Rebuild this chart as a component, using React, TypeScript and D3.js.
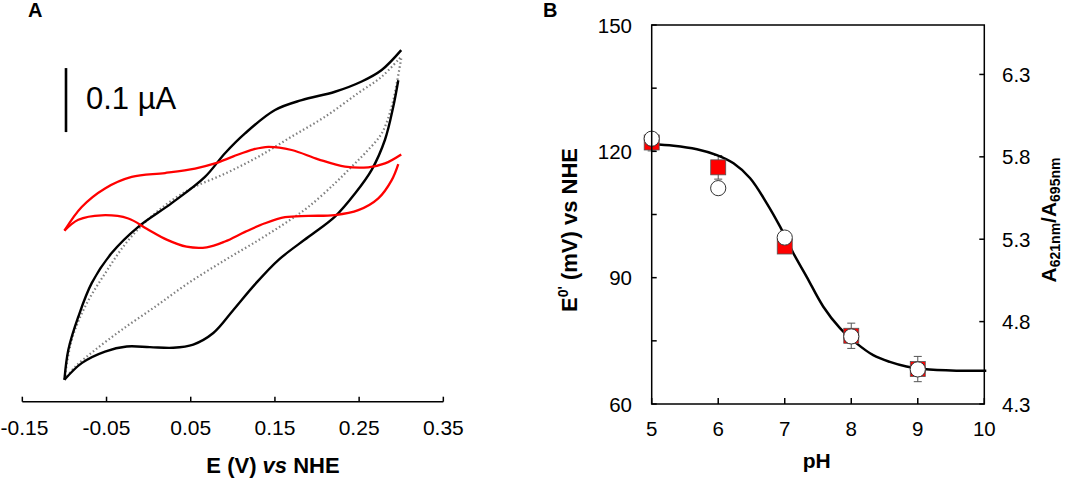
import React from "react"
import * as d3 from "d3"

const W = 1065
const H = 478
const FONT = "Arial, 'Liberation Sans', sans-serif"

// ---- panel A: cyclic voltammograms, [E (V), I (µA)] ----
const blackForward: [number, number][] = [
    [-0.1, -0.259], [-0.0954, -0.2125], [-0.0835, -0.1605], [-0.0676, -0.108],
    [-0.0439, -0.061], [-0.0123, -0.02], [0.0274, 0.017], [0.0669, 0.058],
    [0.0907, 0.095], [0.1145, 0.126], [0.1501, 0.1625], [0.1818, 0.178],
    [0.2213, 0.191], [0.253, 0.207], [0.2768, 0.225], [0.3, 0.256],
]
const blackReverse: [number, number][] = [
    [0.2965, 0.209], [0.2906, 0.168], [0.2807, 0.116], [0.2649, 0.069],
    [0.2451, 0.032], [0.2213, -0.004], [0.1896, -0.036], [0.154, -0.072],
    [0.1263, -0.11], [0.1006, -0.15], [0.0768, -0.186], [0.053, -0.204],
    [0.0293, -0.209], [0.0016, -0.208], [-0.026, -0.207], [-0.0518, -0.215],
    [-0.0795, -0.233], [-0.1, -0.259],
]
const grayForward: [number, number][] = [
    [-0.1, -0.259], [-0.0914, -0.197], [-0.0756, -0.145], [-0.0518, -0.093],
    [-0.0241, -0.041], [0.0076, 0.001], [0.0471, 0.0375], [0.0907, 0.063],
    [0.1303, 0.0895], [0.1699, 0.121], [0.2095, 0.152], [0.249, 0.189],
    [0.2768, 0.2145], [0.3, 0.246],
]
const grayReverse: [number, number][] = [
    [0.3, 0.243], [0.2946, 0.204], [0.2887, 0.168], [0.2768, 0.126],
    [0.257, 0.095], [0.2412, 0.074], [0.2213, 0.048], [0.1896, 0.011],
    [0.162, -0.0145], [0.1303, -0.041], [0.0907, -0.072], [0.0471, -0.108],
    [0.0076, -0.145], [-0.032, -0.181], [-0.0637, -0.2125], [-0.0874, -0.239],
    [-0.1, -0.259],
]
const redForward: [number, number][] = [
    [-0.1, -0.026], [-0.0795, 0.011], [-0.0518, 0.04], [-0.0201, 0.058],
    [0.0194, 0.064], [0.0551, 0.071], [0.0788, 0.079], [0.1006, 0.09],
    [0.1245, 0.101], [0.1421, 0.105], [0.1699, 0.1], [0.2015, 0.0855],
    [0.2332, 0.074], [0.2609, 0.073], [0.2807, 0.079], [0.3, 0.093],
]
const redReverse: [number, number][] = [
    [0.2965, 0.078], [0.2887, 0.053], [0.2728, 0.0245], [0.249, 0.006],
    [0.2213, -0.0016], [0.1896, -0.003], [0.162, -0.005], [0.1382, -0.0145],
    [0.1145, -0.028], [0.0907, -0.043], [0.069, -0.052], [0.045, -0.051],
    [0.0214, -0.04], [-0.0023, -0.023], [-0.0241, -0.007], [-0.0557, -0.002],
    [-0.0835, -0.009], [-0.1, -0.026],
]
const potentialTicks = ["-0.15", "-0.05", "0.05", "0.15", "0.25", "0.35"]

// ---- panel B: E0' and absorbance ratio vs pH ----
const pHValues = [5, 6, 7, 8, 9]
const e0Values = [122.1, 116.2, 97.4, 76.2, 68.3]
const e0Errors = [2, 2.8, 1, 3, 3]
const ratioValues = [5.91, 5.61, 5.31, 4.71, 4.51]
const fitPH = [5.0, 5.33, 5.68, 5.98, 6.23, 6.48, 6.73, 6.93, 7.13, 7.33, 7.58, 7.83, 8.08, 8.33, 8.58, 8.83, 9.08, 9.58, 10.03]
const fitE = [121.7, 121.35, 120.5, 119.1, 117.15, 113.6, 107.65, 102.1, 95.8, 90.2, 83.1, 78.0, 74.4, 71.6, 70.0, 68.9, 68.3, 67.9, 67.9]
const pHTicks = [5, 6, 7, 8, 9, 10]
const e0Ticks = [60, 90, 120, 150]
const e0MinorTicks = [75, 105, 135]
const ratioTicks = [4.3, 4.8, 5.3, 5.8, 6.3]

const CVPanel = () => {
    const x = d3.scaleLinear().domain([-0.15, 0.35]).range([22.33, 443.33])
    const y = d3.scaleLinear().domain([-0.3, 0.3]).range([406, 22]) // 640 px per µA
    const axisY = 401.7
    const line = d3
        .line<[number, number]>()
        .x((d) => x(d[0]))
        .y((d) => y(d[1]))
        .curve(d3.curveCatmullRom.alpha(0.5))

    const barTop = 0.228
    const barX = 66

    return (
        <g>
            <text x={28} y={17} fontSize={20} fontWeight="bold">A</text>

            {/* scale bar */}
            <line x1={barX} x2={barX} y1={y(barTop)} y2={y(barTop - 0.1)} stroke="#000" strokeWidth={2.6} />
            <text x={86} y={109} fontSize={31}>0.1 µA</text>

            <path d={line(grayForward) || ""} fill="none" stroke="#808080" strokeWidth={2.2} strokeDasharray="1.5 2.5" />
            <path d={line(grayReverse) || ""} fill="none" stroke="#808080" strokeWidth={2.2} strokeDasharray="1.5 2.5" />
            <path d={line(blackForward) || ""} fill="none" stroke="#000" strokeWidth={2.4} />
            <path d={line(blackReverse) || ""} fill="none" stroke="#000" strokeWidth={2.4} />
            <path d={line(redForward) || ""} fill="none" stroke="#ff0000" strokeWidth={2.3} />
            <path d={line(redReverse) || ""} fill="none" stroke="#ff0000" strokeWidth={2.3} />

            {/* x axis */}
            <line x1={x(-0.15)} x2={x(0.35)} y1={axisY} y2={axisY} stroke="#000" strokeWidth={1.5} />
            {potentialTicks.map((t, i) => (
                <g key={t}>
                    <line x1={x(+t)} x2={x(+t)} y1={axisY} y2={axisY - 5} stroke="#000" strokeWidth={1.5} />
                    {/* the first label sits at the page edge: keep it just inside */}
                    <text x={i === 0 ? 0.5 : x(+t)} y={434.5} fontSize={21}
                        textAnchor={i === 0 ? "start" : "middle"}>{t}</text>
                </g>
            ))}
            <text x={273} y={473} fontSize={22} fontWeight="bold" textAnchor="middle">
                E (V) <tspan fontStyle="italic">vs</tspan> NHE
            </text>
        </g>
    )
}

const PHPanel = () => {
    const x = d3.scaleLinear().domain([5, 10]).range([651.7, 984.3])
    const y = d3.scaleLinear().domain([60, 150]).range([404, 25])
    const yR = d3.scaleLinear().domain([4.3, 6.6]).range([404, 25])
    const [x0, x1] = x.range()
    const [y0, y1] = y.range()

    const fitLine = d3
        .line<number>()
        .x((d) => x(d))
        .y((_, i) => y(fitE[i]))
        .curve(d3.curveCatmullRom.alpha(0.5))

    const sq = 15
    return (
        <g>
            <text x={543} y={17} fontSize={20} fontWeight="bold">B</text>

            {/* error bars */}
            {pHValues.map((p, i) => {
                const cx = x(p)
                const top = y(e0Values[i] + e0Errors[i])
                const bot = y(e0Values[i] - e0Errors[i])
                return (
                    <g key={p} stroke="#555" strokeWidth={1}>
                        <line x1={cx} x2={cx} y1={top} y2={bot} />
                        <line x1={cx - 4} x2={cx + 4} y1={top} y2={top} />
                        <line x1={cx - 4} x2={cx + 4} y1={bot} y2={bot} />
                    </g>
                )
            })}

            <path d={fitLine(fitPH) || ""} fill="none" stroke="#000" strokeWidth={2.5} />

            {pHValues.map((p, i) => (
                <rect key={p} x={x(p) - sq / 2} y={y(e0Values[i]) - sq / 2} width={sq} height={sq}
                    fill="#ff0000" stroke="#555" strokeWidth={0.8} />
            ))}
            {pHValues.map((p, i) => (
                <circle key={p} cx={x(p)} cy={yR(ratioValues[i])} r={7.6}
                    fill="#fff" stroke="#333" strokeWidth={1} />
            ))}

            {/* frame */}
            <rect x={x0} y={y1} width={x1 - x0} height={y0 - y1} fill="none" stroke="#000" strokeWidth={1.5} />

            {pHTicks.map((t) => (
                <g key={t}>
                    <line x1={x(t)} x2={x(t)} y1={y0} y2={y0 - 6} stroke="#000" strokeWidth={1.5} />
                    <text x={x(t)} y={435.5} fontSize={20.5} textAnchor="middle">{t}</text>
                </g>
            ))}
            {[...e0Ticks, ...e0MinorTicks].map((t) => (
                <line key={t} x1={x0} x2={x0 + 5} y1={y(t)} y2={y(t)} stroke="#000" strokeWidth={1.5} />
            ))}
            {e0Ticks.map((t) => (
                <text key={t} x={632} y={y(t) + 7.5} fontSize={20.5} textAnchor="end">{t}</text>
            ))}
            {ratioTicks.map((t) => (
                <g key={t}>
                    <line x1={x1} x2={x1 - 5} y1={yR(t)} y2={yR(t)} stroke="#000" strokeWidth={1.5} />
                    <text x={1002} y={yR(t) + 7.5} fontSize={20.5}>{t.toFixed(1)}</text>
                </g>
            ))}

            <text x={816.7} y={468} fontSize={21} fontWeight="bold" textAnchor="middle">pH</text>

            <text transform="translate(577,230) rotate(-90)" fontSize={22} fontWeight="bold" textAnchor="middle">
                E<tspan fontSize={14} dy={-9}>0'</tspan>
                <tspan dy={9}> (mV) vs NHE</tspan>
            </text>

            <text transform="translate(1056,220) rotate(-90)" fontSize={21} fontWeight="bold" textAnchor="middle">
                A<tspan fontSize={14} dy={4}>621nm</tspan>
                <tspan dy={-4}>/A</tspan>
                <tspan fontSize={14} dy={4}>695nm</tspan>
            </text>
        </g>
    )
}

export default function App() {
    return (
        <svg width={W} height={H} style={{ position: "absolute", left: 0, top: 0, background: "#fff" }}
            fontFamily={FONT}>
            <rect width={W} height={H} fill="#fff" />
            <CVPanel />
            <PHPanel />
        </svg>
    )
}
